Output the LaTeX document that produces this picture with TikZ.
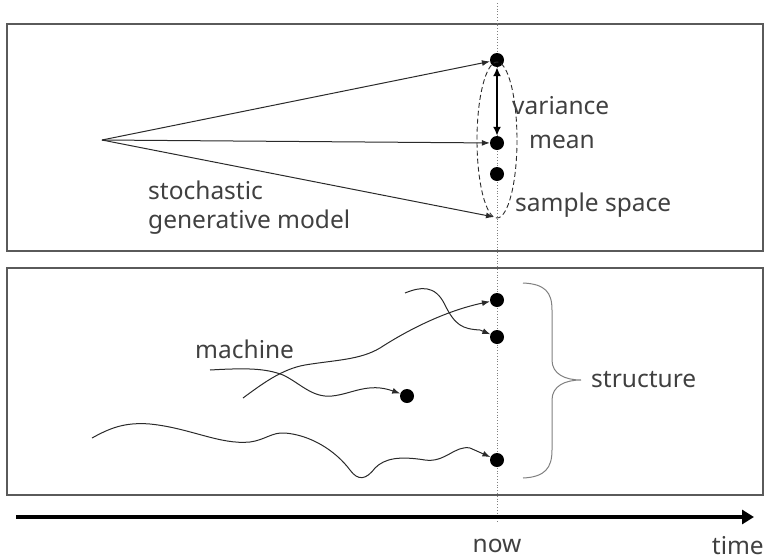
\documentclass[tikz,border=0pt]{standalone}
\usepackage{fontspec}
\setmainfont{Noto Sans}
\usepackage{xcolor}
\usetikzlibrary{arrows.meta,positioning,calc}
\definecolor{txtgray}{HTML}{404040}
\definecolor{boxgray}{HTML}{5A5A5A}
\definecolor{linegray}{HTML}{2A2A2A}
\begin{document}
\begin{tikzpicture}[x=1pt,y=-1pt,
  every node/.style={font=\fontsize{24.5}{29}\selectfont,text=txtgray,inner sep=0pt},
  dot/.style={circle,fill=black,minimum size=14pt,inner sep=0pt},
  arr/.style={-{Latex[length=8pt,width=6pt]},linegray,line width=1pt},
  panel/.style={boxgray,line width=1.6pt}]
\useasboundingbox (0,0) rectangle (769,560);
% panels and time line
\draw[panel] (7,24) rectangle (763,251);
\draw[panel] (7,268) rectangle (763,495);
\coordinate (nowtop) at (497,3);
\coordinate (nowbot) at (497,522);
\draw[gray,dotted,line width=0.8pt] (nowtop)--(nowbot);
\coordinate (tstart) at (16,517);
\coordinate (tend) at (754,517);
\draw[line width=4pt,-{Triangle[length=12pt,width=14pt]}] (tstart)--(tend);
\node[anchor=base] (now) at (497,552) {now};
\node[anchor=base east] (time) at (764,554) {time};
% upper panel: generative model
\coordinate (gen) at (102,140);
\node[dot] (top) at (497,60) {};
\node[dot] (mean) at (497,143) {};
\node[dot] (smp) at (497,174) {};
\coordinate (low) at (494,217);
\draw[dashed,linegray,line width=0.9pt,dash pattern=on 5pt off 3pt] (497,140) ellipse (20 and 78);
\draw[arr] (gen)--(top);
\draw[arr] (gen)--(mean);
\draw[arr] (gen)--(low);
\draw[{Latex[length=9pt,width=8pt]}-{Latex[length=9pt,width=8pt]},line width=2.6pt] (top)--(mean);
\node[anchor=base west] (var) at (512,114) {variance};
\node[anchor=base west] (meanlbl) at (529,148) {mean};
\node[anchor=base west] (space) at (515,211) {sample space};
\node[anchor=base west,align=left] (model) at (148,228) {stochastic\\generative model};
% lower panel: machines
\node[dot] (s1) at (497,300) {};
\node[dot] (s2) at (497,337) {};
\node[dot] (m) at (407,396) {};
\node[dot] (s4) at (497,460) {};
\coordinate (ca) at (210,370);
\coordinate (cb) at (243,398);
\coordinate (cc) at (405,293);
\coordinate (cd) at (92,438);
\draw[arr] (ca) .. controls (245,368) and (265,368) .. (283,375)
  .. controls (300,383) and (312,398) .. (332,396)
  .. controls (352,394) and (368,382) .. (m);
\draw[arr] (cb) .. controls (262,384) and (282,369) .. (305,365)
  .. controls (335,360) and (360,360) .. (380,348)
  .. controls (400,335) and (440,312) .. (s1);
\draw[arr] (cc) .. controls (420,287) and (435,284) .. (445,305)
  .. controls (455,325) and (462,329) .. (480,330) -- (s2);
\draw[arr] (cd) .. controls (110,428) and (125,422) .. (150,424)
  .. controls (190,428) and (220,445) .. (250,442)
  .. controls (265,440) and (272,432) .. (285,433)
  .. controls (310,435) and (335,450) .. (350,470)
  .. controls (358,481) and (366,480) .. (375,468)
  .. controls (385,458) and (400,456) .. (425,460)
  .. controls (445,463) and (455,445) .. (470,448) -- (s4);
\node[anchor=base west] (mach) at (195,358) {machine};
% structure brace
\draw[gray,line width=1pt] (523,283) .. controls (545,284) and (552,292) .. (552,310)
  -- (552,360) .. controls (552,374) and (565,380) .. (581,380)
  .. controls (565,380) and (552,386) .. (552,400)
  -- (552,450) .. controls (552,468) and (545,477) .. (523,478);
\node[anchor=base west] (struct) at (591,387) {structure};
\end{tikzpicture}
\end{document}
